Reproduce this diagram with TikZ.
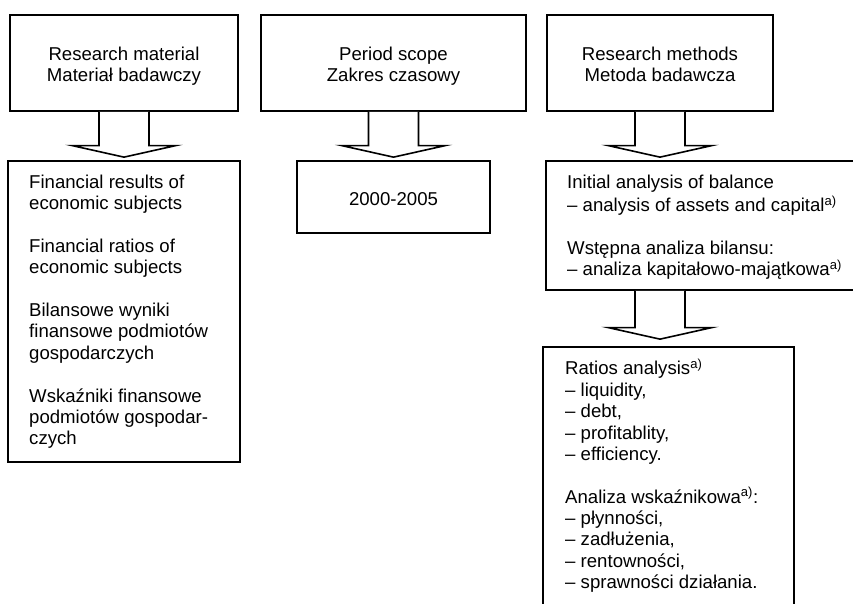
\documentclass[tikz,border=0pt]{standalone}
\usepackage{fontspec}
\setmainfont{Liberation Sans}
\usetikzlibrary{calc}
\newcommand\dfont{\fontsize{18.6}{21.4}\selectfont}
\tikzset{
  box/.style={draw=black, line width=1.7pt, rectangle, inner sep=0pt, fill=white},
  txt/.style={inner sep=0pt, font=\dfont, text=black},
  barrow/.style={draw=black, line width=1.6pt, fill=white, line join=miter},
}
\newcommand\blockarrow[2]{%
  \draw[barrow] ($(#1)+(-25,0)$) -- ($(#2)+(-25,-11.5)$) -- ($(#2)+(-51.5,-11.5)$) -- (#2)
    -- ($(#2)+(51.5,-11.5)$) -- ($(#2)+(25,-11.5)$) -- ($(#1)+(25,0)$);}
\begin{document}
\begin{tikzpicture}[x=1pt,y=-1pt]
\useasboundingbox (0,0) rectangle (853,604);
\clip (0,0) rectangle (853,604);
\fill[white] (0,0) rectangle (853,604);

% top boxes
\node[box, minimum width=228pt, minimum height=96pt] (m1) at (124,63) {};
\node[box, minimum width=265pt, minimum height=96pt] (m2) at (393.5,63) {};
\node[box, minimum width=226pt, minimum height=96pt] (m3) at (660,63) {};

% lower boxes
\node[box, minimum width=232pt, minimum height=301pt] (d1) at (124,311.5) {};
\node[box, minimum width=193pt, minimum height=72pt] (d2) at (393.5,197) {};
\node[box, minimum width=334pt, minimum height=129pt] (d3) at (713,225.5) {};
\node[box, minimum width=251pt, minimum height=293pt] (d4) at (668.5,493.5) {};

% arrows
\coordinate (s1) at (m1.south);
\coordinate (t1) at ($(m1.south |- d1.north)+(0,-3)$);
\coordinate (s2) at (m2.south);
\coordinate (t2) at ($(m2.south |- d2.north)+(0,-3)$);
\coordinate (s3) at (m3.south);
\coordinate (t3) at ($(m3.south |- d3.north)+(0,-3)$);
\coordinate (s4) at (m3.south |- d3.south);
\coordinate (t4) at ($(m3.south |- d4.north)+(0,-7)$);
\blockarrow{s1}{t1}
\blockarrow{s2}{t2}
\blockarrow{s3}{t3}
\blockarrow{s4}{t4}

% texts
\node[txt, align=center, anchor=north] (tm1) at (124,45) {\strut Research material\\Materiał badawczy};
\node[txt, align=center, anchor=north] (tm2) at (393.5,45) {\strut Period scope\\Zakres czasowy};
\node[txt, align=center, anchor=north] (tm3) at (660,45) {\strut Research methods\\Metoda badawcza};

\node[txt, anchor=base] (td2) at (393.5,205) {2000-2005};

\node[txt, align=left, anchor=north west] (td1) at (29,173) {\strut Financial results of\\economic subjects\\[21.4pt]
Financial ratios of\\economic subjects\\[21.4pt]
Bilansowe wyniki\\finansowe podmiotów\\gospodarczych\\[21.4pt]
Wskaźniki finansowe\\podmiotów gospodar-\\czych};

\node[txt, align=left, anchor=north west] (td3) at (567,173) {\strut Initial analysis of balance\\– analysis of assets and capital\textsuperscript{a)}\\[21.4pt]
Wstępna analiza bilansu:\\– analiza kapitałowo-majątkowa\textsuperscript{a)}};

\node[txt, align=left, anchor=north west] (td4) at (565,359) {\strut Ratios analysis\textsuperscript{a)}\\– liquidity,\\– debt,\\– profitablity,\\– efficiency.\\[21.2pt]
Analiza wskaźnikowa\textsuperscript{a)}:\\– płynności,\\– zadłużenia,\\– rentowności,\\– sprawności działania.};
\end{tikzpicture}
\end{document}
